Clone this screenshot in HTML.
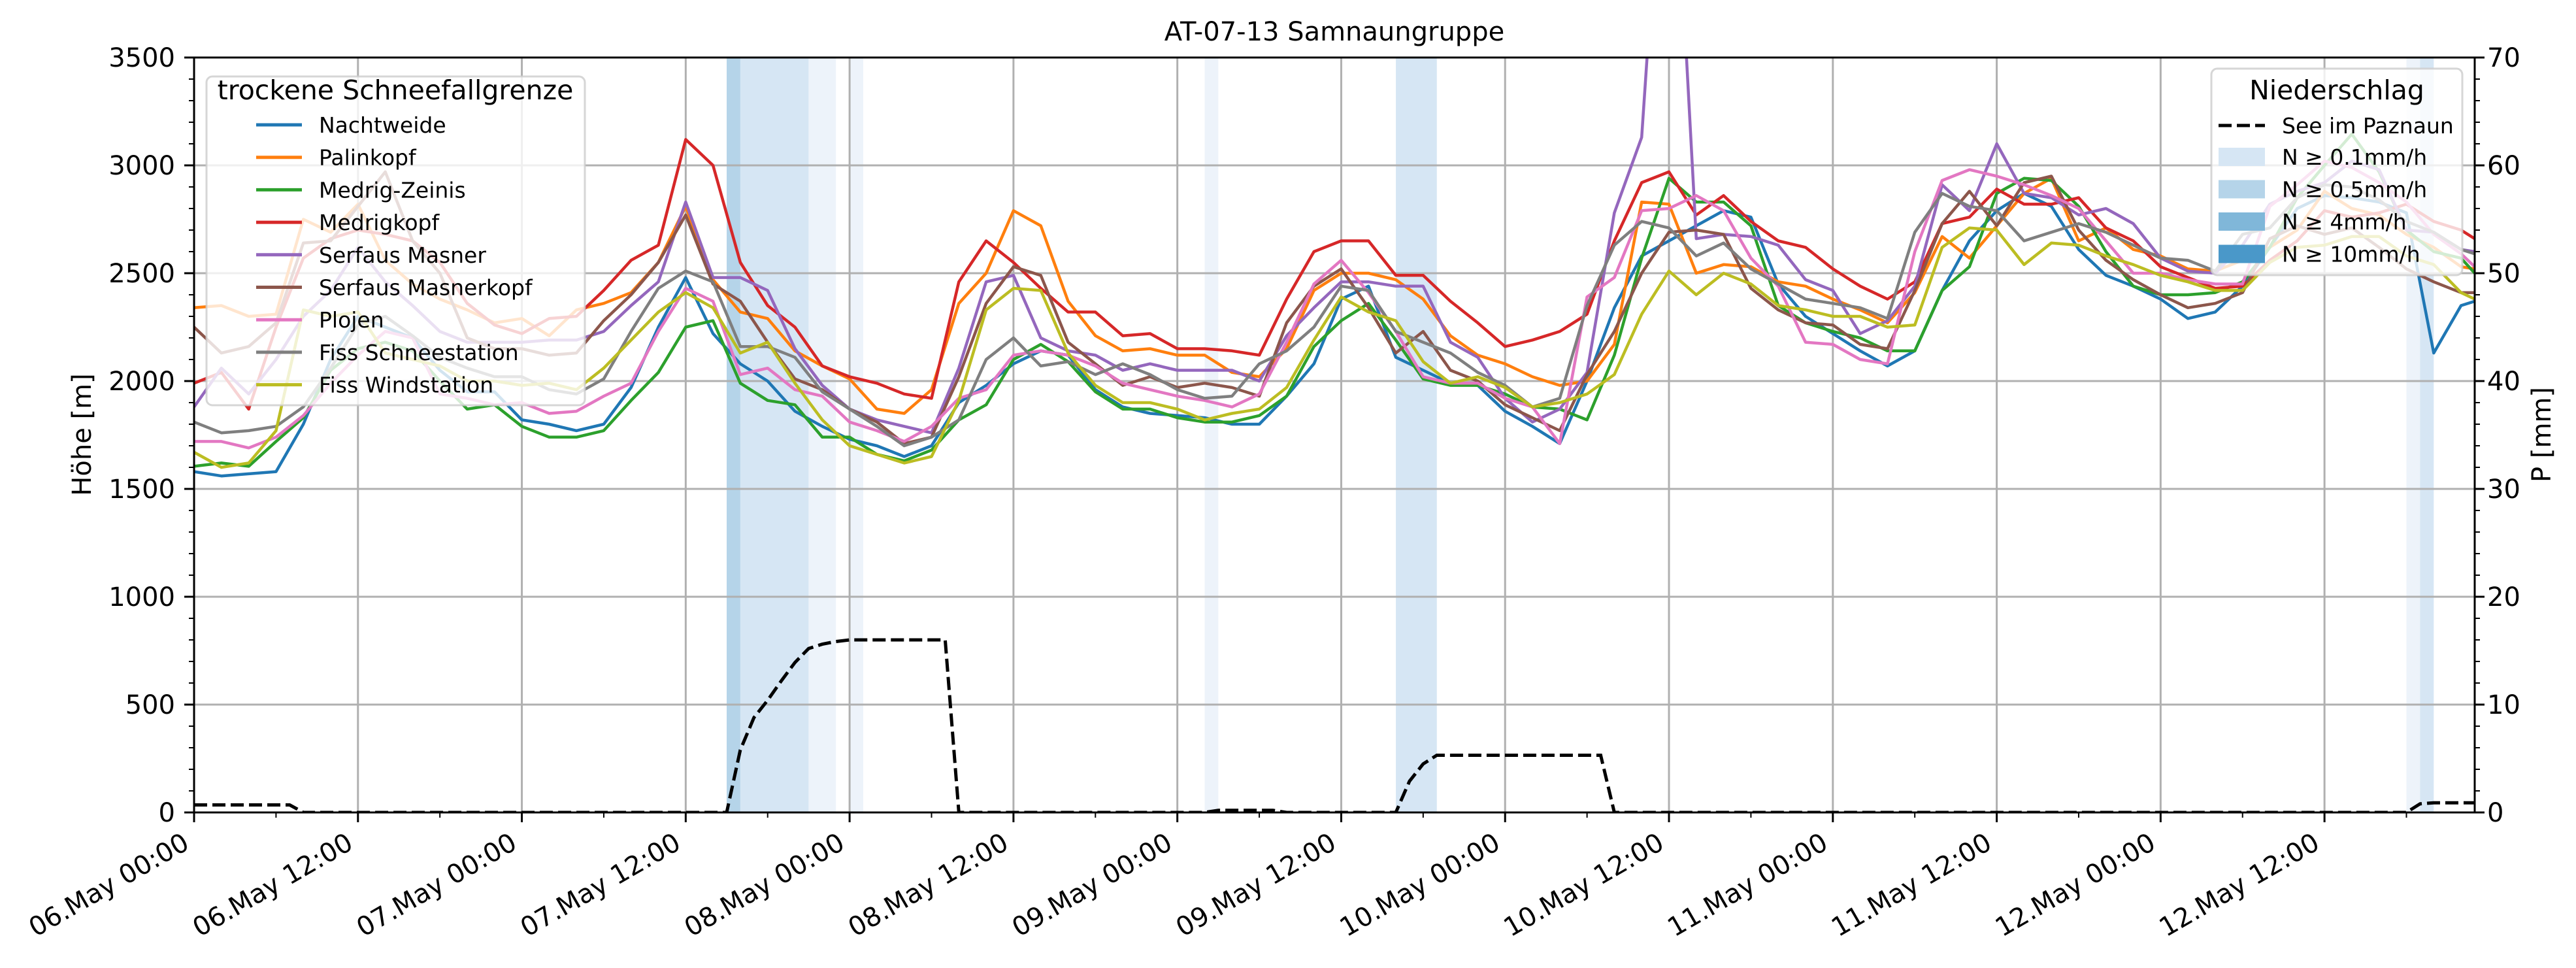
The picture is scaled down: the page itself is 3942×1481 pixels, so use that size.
<!DOCTYPE html>
<html><head><meta charset="utf-8"><title>AT-07-13 Samnaungruppe</title>
<style>
html,body{margin:0;padding:0;background:#fff;}
svg{display:block;font-family:"DejaVu Sans","Liberation Sans",sans-serif;}
</style></head>
<body>
<svg id="chart" xmlns="http://www.w3.org/2000/svg" width="3942" height="1481" viewBox="0 0 3942 1481">
<defs><clipPath id="plotclip"><rect x="297" y="88" width="3490" height="1155"/></clipPath></defs>
<rect x="0" y="0" width="3942" height="1481" fill="#fff"/>
<g id="bands"></g>
<g id="grid"></g>
<g id="series" clip-path="url(#plotclip)"></g>
<g id="rain" clip-path="url(#plotclip)"></g>
<g id="axes"></g>
<text x="2042" y="62" font-size="40" text-anchor="middle">AT-07-13 Samnaungruppe</text>
<text transform="translate(139,665) rotate(-90)" font-size="40" text-anchor="middle">Höhe [m]</text>
<text transform="translate(3903,665) rotate(-90)" font-size="40" text-anchor="middle">P [mm]</text>
<g id="legend1"></g>
<g id="legend2"></g>
</svg>
<script>
const xTickLabels = ["06.May 00:00","06.May 12:00","07.May 00:00","07.May 12:00","08.May 00:00","08.May 12:00","09.May 00:00","09.May 12:00","10.May 00:00","10.May 12:00","11.May 00:00","11.May 12:00","12.May 00:00","12.May 12:00"];
const yTickLabels = [0,500,1000,1500,2000,2500,3000,3500];
const y2TickLabels = [0,10,20,30,40,50,60,70];
const seriesNames = ["Nachtweide","Palinkopf","Medrig-Zeinis","Medrigkopf","Serfaus Masner","Serfaus Masnerkopf","Plojen","Fiss Schneestation","Fiss Windstation"];
const seriesColors = ["#1f77b4","#ff7f0e","#2ca02c","#d62728","#9467bd","#8c564b","#e377c2","#7f7f7f","#bcbd22"];
const hours = [];
for (let h = 0; h <= 166; h += 2) hours.push(h);
hours.push(167);
const nachtweide = [1580,1560,1570,1580,1800,2100,2300,2250,2200,2050,1950,1950,
1820,1800,1770,1800,1970,2250,2480,2220,2080,2000,1860,1790,
1730,1700,1650,1700,1900,1980,2080,2140,2120,1960,1880,1850,
1840,1830,1800,1800,1930,2080,2380,2440,2110,2050,1990,1980,
1860,1790,1710,2000,2340,2580,2650,2720,2790,2760,2450,2300,
2220,2140,2070,2140,2420,2650,2790,2870,2810,2610,2490,2440,
2380,2290,2320,2440,2620,2800,2860,2850,2830,2780,2130,2350,2370];
const palinkopf = [2340,2350,2300,2310,2750,2690,2820,2560,2450,2380,2330,2270,
2290,2210,2330,2360,2410,2550,2810,2470,2320,2290,2140,2070,
2010,1870,1850,1960,2360,2500,2790,2720,2370,2210,2140,2150,
2120,2120,2040,2020,2150,2420,2500,2500,2470,2380,2210,2120,
2080,2020,1980,2000,2170,2830,2820,2500,2540,2530,2460,2440,
2380,2330,2270,2410,2670,2570,2720,2870,2940,2650,2710,2610,
2580,2520,2510,2560,2620,2700,2880,2800,2770,2680,2620,2530,2520];
const medrigZeinis = [1605,1620,1605,1720,1830,2050,2150,2180,2140,2000,1870,1890,
1790,1740,1740,1770,1910,2040,2250,2280,1990,1910,1890,1740,
1740,1660,1630,1680,1820,1890,2100,2170,2090,1950,1870,1870,
1830,1810,1810,1840,1930,2160,2280,2360,2190,2010,1980,1980,
1940,1880,1870,1820,2120,2570,2940,2830,2830,2720,2350,2270,
2230,2200,2140,2140,2420,2530,2870,2940,2930,2810,2600,2440,
2400,2400,2410,2460,2620,2850,3000,3145,2970,2700,2600,2570,2500];
const medrigkopf = [1990,2040,1870,2250,2570,2660,2700,2680,2650,2550,2360,2260,
2220,2290,2300,2420,2560,2630,3120,3000,2550,2350,2250,2070,
2020,1990,1940,1920,2460,2650,2550,2430,2320,2320,2210,2220,
2150,2150,2140,2120,2380,2600,2650,2650,2490,2490,2370,2270,
2160,2190,2230,2310,2650,2920,2970,2770,2860,2740,2650,2620,
2520,2440,2380,2460,2730,2760,2890,2820,2820,2850,2710,2650,
2530,2480,2430,2440,2560,2650,2790,2760,2780,2820,2740,2700,2660];
const serfausMasner = [1880,2060,1940,2100,2300,2420,2620,2460,2350,2230,2180,2180,
2180,2190,2190,2230,2350,2460,2830,2480,2480,2420,2150,1980,
1870,1820,1790,1760,2060,2460,2490,2200,2140,2120,2050,2080,
2050,2050,2050,2000,2210,2340,2460,2460,2440,2440,2180,2110,
1920,1810,1870,2040,2780,3130,5000,2660,2680,2670,2630,2470,
2420,2220,2280,2440,2910,2790,3100,2870,2850,2770,2800,2730,
2570,2510,2500,2630,2820,2880,2920,3020,2980,2700,2690,2610,2600];
const serfausMasnerkopf = [2250,2130,2160,2270,2640,2650,2810,2970,2650,2500,2200,2150,
2150,2120,2130,2280,2400,2550,2770,2450,2370,2180,2010,1960,
1870,1810,1710,1740,2020,2360,2530,2490,2180,2080,1980,2020,
1970,1990,1970,1930,2270,2440,2520,2340,2130,2230,2050,2000,
1890,1830,1770,2030,2230,2500,2690,2700,2680,2430,2330,2270,
2260,2170,2150,2420,2730,2880,2720,2920,2950,2700,2560,2470,
2400,2340,2360,2410,2660,2720,2680,2710,2620,2520,2460,2410,2410];
const plojen = [1720,1720,1690,1740,1840,1990,2120,2230,2200,1940,1920,1890,
1900,1850,1860,1930,1990,2230,2430,2370,2030,2060,1960,1930,
1810,1770,1720,1790,1920,1960,2120,2140,2120,2070,1990,1960,
1930,1910,1880,1940,2180,2450,2560,2410,2230,2020,1990,1990,
1920,1880,1710,2390,2480,2790,2800,2860,2790,2570,2440,2180,
2170,2100,2080,2600,2930,2980,2950,2910,2860,2800,2650,2500,
2500,2470,2450,2450,2810,2910,3020,2990,2920,2830,2680,2590,2530];
const fissSchneestation = [1810,1760,1770,1790,1880,2060,2260,2300,2210,2110,2060,2020,
2020,1960,1940,2010,2230,2430,2510,2460,2160,2160,2110,1950,
1870,1790,1700,1740,1820,2100,2200,2070,2090,2030,2080,2030,
1960,1920,1930,2080,2140,2250,2440,2420,2230,2180,2130,2040,
1980,1880,1920,2350,2630,2740,2710,2580,2640,2520,2450,2380,
2360,2340,2290,2690,2870,2810,2790,2650,2690,2730,2690,2630,
2570,2560,2510,2680,2710,2850,2910,2900,2840,2740,2690,2610,2590];
const fissWindstation = [1670,1600,1620,1770,2330,2300,2320,2130,2100,2070,2000,2000,
1980,1990,1960,2060,2190,2320,2410,2340,2130,2180,1990,1820,
1700,1660,1620,1650,1910,2330,2430,2420,2130,1980,1900,1900,
1870,1820,1850,1870,1970,2190,2390,2320,2280,2090,1990,2020,
1970,1880,1900,1940,2030,2310,2510,2400,2500,2450,2350,2330,
2300,2300,2250,2260,2620,2710,2700,2540,2640,2630,2580,2540,
2490,2460,2420,2420,2550,2620,2630,2670,2670,2580,2540,2410,2380];
const allSeries = [nachtweide,palinkopf,medrigZeinis,medrigkopf,serfausMasner,serfausMasnerkopf,plojen,fissSchneestation,fissWindstation];
const rainHours = [0,7,8,39,40,41,42,43,44,45,46,47,48,55,56,74,75,79,80,88,89,90,91,103,104,162,163,164,167];
const rainValues = [0.7,0.7,0,0,5.8,8.8,10.4,12.2,13.9,15.2,15.6,15.85,16.0,16.0,0,0,0.2,0.2,0,0,2.9,4.5,5.3,5.3,0,0,0.8,0.9,0.9];
const bandStart = [39,40,45,48,74,88,162,163];
const bandEnd = [40,45,47,49,75,91,163,164];
const bandLevel = [2,1,0,0,0,1,0,1];
const bandColors = ["#edf3fa","#d6e6f4","#b5d4e9"];
const legend2Labels = ["N \u2265 0.1mm/h","N \u2265 0.5mm/h","N \u2265 4mm/h","N \u2265 10mm/h"];
const legend2Colors = ["#d6e6f4","#b5d4e9","#80b7d9","#4a98c9"];

const NS = "http://www.w3.org/2000/svg";
const L = 297, R = 3787, T = 88, B = 1243;
const X = h => L + h * (R - L) / 167;
const Y = v => B - v / 3500 * (B - T);
const Y2 = v => B - v / 70 * (B - T);
function mk(tag, attrs, parent) {
  const e = document.createElementNS(NS, tag);
  for (const k in attrs) e.setAttribute(k, attrs[k]);
  parent.appendChild(e);
  return e;
}
const gB = document.getElementById('bands');
bandStart.forEach((s, i) => {
  const r = mk('rect', {x: X(s), y: T, width: X(bandEnd[i]) - X(s), height: B - T, fill: bandColors[bandLevel[i]]}, gB);
  
  
});
const gG = document.getElementById('grid');
for (let i = 0; i < xTickLabels.length; i++) {
  const x = X(i * 12);
  const ln = mk('line', {x1: x, x2: x, y1: T, y2: B, stroke: '#b0b0b0', 'stroke-width': 3}, gG);
  
  
}
yTickLabels.forEach(v => {
  const ln = mk('line', {x1: L, x2: R, y1: Y(v), y2: Y(v), stroke: '#b0b0b0', 'stroke-width': 3}, gG);
  
  
});
const gS = document.getElementById('series');
allSeries.forEach((arr, si) => {
  const pts = arr.map((v, i) => X(hours[i]).toFixed(1) + ',' + Y(v).toFixed(1)).join(' ');
  const pl = mk('polyline', {points: pts, fill: 'none', stroke: seriesColors[si], 'stroke-width': 4.5, 'stroke-linejoin': 'round'}, gS);
  
  
});
const gR = document.getElementById('rain');
const rp = mk('polyline', {points: rainValues.map((v, i) => X(rainHours[i]).toFixed(1) + ',' + Y2(v).toFixed(1)).join(' '), fill: 'none', stroke: '#000', 'stroke-width': 5, 'stroke-dasharray': '20,8'}, gR);



const gA = document.getElementById('axes');
const frame = mk('rect', {x: L, y: T, width: R - L, height: B - T, fill: 'none', stroke: '#000', 'stroke-width': 3}, gA);


for (let h = 0; h <= 167; h += 6) {
  const major = h % 12 === 0;
  mk('line', {x1: X(h), x2: X(h), y1: B, y2: B + (major ? 15 : 8), stroke: '#000', 'stroke-width': major ? 3 : 2}, gA);
}
xTickLabels.forEach((t, i) => {
  const x = X(i * 12) - 5;
  const tx = mk('text', {transform: 'translate(' + x + ',1297) rotate(-30)', 'font-size': 40, 'text-anchor': 'end'}, gA);
  tx.textContent = t;
  
  
});
for (let v = 0; v <= 3500; v += 100) {
  const major = v % 500 === 0;
  mk('line', {x1: L, x2: L - (major ? 15 : 8), y1: Y(v), y2: Y(v), stroke: '#000', 'stroke-width': major ? 3 : 2}, gA);
}
yTickLabels.forEach(v => {
  const tx = mk('text', {x: 268, y: Y(v) + 14, 'font-size': 40, 'text-anchor': 'end'}, gA);
  tx.textContent = v;
  
  
});
for (let v = 0; v <= 70; v += 2) {
  const major = v % 10 === 0;
  mk('line', {x1: R, x2: R + (major ? 15 : 8), y1: Y2(v), y2: Y2(v), stroke: '#000', 'stroke-width': major ? 3 : 2}, gA);
}
y2TickLabels.forEach(v => {
  const tx = mk('text', {x: 3806, y: Y2(v) + 14, 'font-size': 40, 'text-anchor': 'start'}, gA);
  tx.textContent = v;
  
  
});

const g1 = document.getElementById('legend1');
mk('rect', {x: 316, y: 117, width: 579, height: 503, rx: 9, fill: 'rgba(255,255,255,0.8)', stroke: 'rgba(204,204,204,0.8)', 'stroke-width': 3}, g1);
const t1 = mk('text', {x: 605, y: 152, 'font-size': 41, 'text-anchor': 'middle'}, g1);
t1.textContent = 'trockene Schneefallgrenze';


seriesNames.forEach((n, i) => {
  const y = 191 + i * 49.7;
  const ln = mk('line', {x1: 392, x2: 462, y1: y, y2: y, stroke: seriesColors[i], 'stroke-width': 5}, g1);
  
  
  const tx = mk('text', {x: 488, y: y + 12, 'font-size': 33}, g1);
  tx.textContent = n;
  
  
});
const g2 = document.getElementById('legend2');
mk('rect', {x: 3384, y: 105, width: 384, height: 316, rx: 9, fill: 'rgba(255,255,255,0.8)', stroke: 'rgba(204,204,204,0.8)', 'stroke-width': 3}, g2);
const t2 = mk('text', {x: 3576, y: 152, 'font-size': 41, 'text-anchor': 'middle'}, g2);
t2.textContent = 'Niederschlag';


const dl = mk('line', {x1: 3395, x2: 3466, y1: 192, y2: 192, stroke: '#000', 'stroke-width': 5, 'stroke-dasharray': '20,8'}, g2);


const ts = mk('text', {x: 3492, y: 204, 'font-size': 33}, g2);
ts.textContent = 'See im Paznaun';


legend2Labels.forEach((lab, i) => {
  const y = 240 + i * 49.5;
  const r = mk('rect', {x: 3395, y: y - 14, width: 71, height: 28, fill: legend2Colors[i]}, g2);
  
  
  const tx = mk('text', {x: 3492, y: y + 12, 'font-size': 33}, g2);
  tx.textContent = lab;
  
  
});
</script>
</body></html>
